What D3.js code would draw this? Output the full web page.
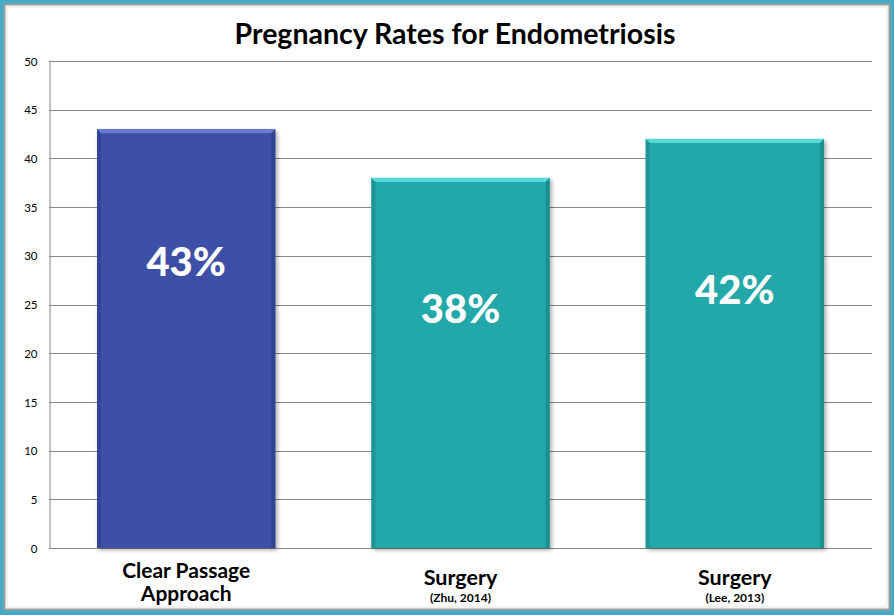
<!DOCTYPE html>
<html>
<head>
<meta charset="utf-8">
<script src="https://cdn.jsdelivr.net/npm/d3@7/dist/d3.min.js"></script>
<style>
  html, body { margin: 0; padding: 0; background: #fff; }
  svg { display: block; }
  text { font-family: Lato, "Open Sans", sans-serif; }
</style>
</head>
<body>
<svg id="chart" width="894" height="615"></svg>
<script>
// ---- data ----
const title = "Pregnancy Rates for Endometriosis";
const categories = ["Clear Passage Approach", "Surgery (Zhu, 2014)", "Surgery (Lee, 2013)"];
const mainLabels = [["Clear Passage", "Approach"], ["Surgery"], ["Surgery"]];
const subLabels = ["", "(Zhu, 2014)", "(Lee, 2013)"];
const values = [43, 38, 42];
const valueLabels = ["43%", "38%", "42%"];
const labelLevels = [29.4, 24.6, 26.5];
const yTicks = [0, 5, 10, 15, 20, 25, 30, 35, 40, 45, 50];

// ---- layout ----
const W = 894, H = 615;
const plot = { left: 49, right: 872, top: 61, bottom: 548 };
const barColors = ["#3C50A6", "#20A8A8", "#20A8A8"];
const bevelColors = ["#6A7CD0", "#55D8D8", "#55D8D8"];
const sideColors = ["#2E3F8A", "#17898A", "#17898A"];

const svg = d3.select("#chart");
const defs = svg.append("defs");
const f = defs.append("filter").attr("id", "shadow").attr("x", "-10%").attr("y", "-10%").attr("width", "130%").attr("height", "130%");
f.append("feDropShadow").attr("dx", 2).attr("dy", 2).attr("stdDeviation", 2).attr("flood-color", "#000").attr("flood-opacity", 0.35);

// frame
svg.append("rect").attr("x", 0).attr("y", 0).attr("width", W).attr("height", H).attr("fill", "#46AAC4");
svg.append("rect").attr("x", 4.5).attr("y", 4.5).attr("width", W - 9).attr("height", H - 10)
  .attr("fill", "#fff").attr("stroke", "#9a9a9a").attr("stroke-width", 2);
svg.append("rect").attr("x", 7).attr("y", 7).attr("width", W - 14).attr("height", H - 15)
  .attr("fill", "none").attr("stroke", "#e4e4e4").attr("stroke-width", 1);

const x = d3.scaleBand().domain(categories).range([plot.left, plot.right])
  .paddingInner(0.35).paddingOuter(0.175);
const y = d3.scaleLinear().domain([0, 50]).range([plot.bottom, plot.top]);

// gridlines
svg.append("g").selectAll("line").data(yTicks).join("line")
  .attr("x1", plot.left).attr("x2", plot.right)
  .attr("y1", d => Math.round(y(d)) + 0.5).attr("y2", d => Math.round(y(d)) + 0.5)
  .attr("stroke", "#868686").attr("stroke-width", 1);

// y axis
const yAxis = d3.axisLeft(y).tickValues(yTicks).tickSize(0).tickPadding(12);
const ga = svg.append("g").attr("transform", `translate(${plot.left + 0.5},0.5)`).call(yAxis);
ga.select(".domain").attr("stroke", "#868686");
ga.selectAll("text").attr("font-size", 11.5).attr("fill", "#000").attr("font-family", "Lato, sans-serif");

// bars
const bars = svg.append("g").selectAll("g").data(values).join("g");
bars.append("rect")
  .attr("x", (d, i) => x(categories[i]))
  .attr("y", d => y(d))
  .attr("width", x.bandwidth())
  .attr("height", d => y(0) - y(d))
  .attr("fill", (d, i) => barColors[i])
  .attr("filter", "url(#shadow)");
// top bevel
const bv = 4;
bars.append("path")
  .attr("d", (d, i) => {
    const x0 = x(categories[i]), x1 = x0 + x.bandwidth(), y0 = y(d);
    return `M${x0},${y0}L${x1},${y0}L${x1 - bv},${y0 + bv}L${x0 + bv},${y0 + bv}Z`;
  })
  .attr("fill", (d, i) => bevelColors[i]);
// side bevels
bars.append("path")
  .attr("d", (d, i) => {
    const x0 = x(categories[i]), y0 = y(d), y1 = y(0);
    return `M${x0},${y0}L${x0 + bv},${y0 + bv}L${x0 + bv},${y1}L${x0},${y1}Z`;
  })
  .attr("fill", (d, i) => sideColors[i]).attr("opacity", 0.6);
bars.append("path")
  .attr("d", (d, i) => {
    const x1 = x(categories[i]) + x.bandwidth(), y0 = y(d), y1 = y(0);
    return `M${x1},${y0}L${x1 - bv},${y0 + bv}L${x1 - bv},${y1}L${x1},${y1}Z`;
  })
  .attr("fill", (d, i) => sideColors[i]).attr("opacity", 0.8);

// value labels
svg.append("g").selectAll("text").data(valueLabels).join("text")
  .attr("x", (d, i) => x(categories[i]) + x.bandwidth() / 2)
  .attr("y", (d, i) => y(labelLevels[i]))
  .attr("dy", "0.36em")
  .attr("text-anchor", "middle")
  .attr("font-size", 40).attr("font-weight", 900).attr("fill", "#fff")
  .text(d => d);

// category labels (one text element per category, lines as tspans)
const cl = svg.append("g").selectAll("text").data(categories).join("text")
  .attr("text-anchor", "middle").attr("font-weight", 700).attr("fill", "#000");
cl.each(function (c, i) {
  const t = d3.select(this);
  const cx = x(c) + x.bandwidth() / 2;
  const lines = mainLabels[i];
  if (lines.length === 2) {
    t.append("tspan").attr("x", cx).attr("y", 578).attr("font-size", 21).text(lines[0]);
    t.append("tspan").attr("x", cx).attr("y", 601).attr("font-size", 21).text(lines[1]);
  } else {
    t.append("tspan").attr("x", cx).attr("y", 585).attr("font-size", 21.5).text(lines[0]);
    t.append("tspan").attr("x", cx).attr("y", 602).attr("font-size", 12).text(subLabels[i]);
  }
});

// title
svg.append("text").attr("x", 455).attr("y", 44).attr("text-anchor", "middle")
  .attr("font-size", 28.5).attr("font-weight", 700).attr("fill", "#000").text(title);
</script>
</body>
</html>
